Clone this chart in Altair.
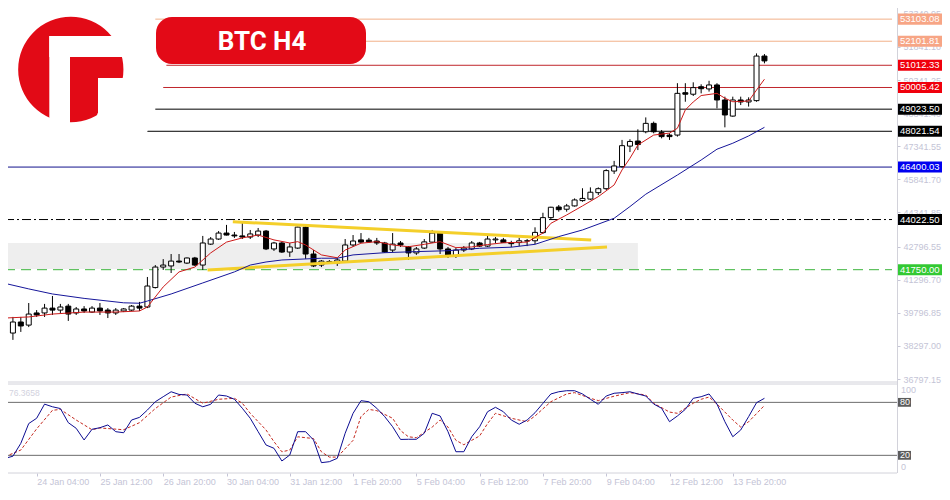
import altair as alt
import pandas as pd

# ---------------- data ----------------
# 4-hour BTC candles, index 0 = first visible bar (23 Jan 20:00), weekends skipped
opens = [
    38940, 38880, 39380, 39240, 39790, 39790, 40010, 39920, 40100, 39790,
    39970, 39830, 40010, 39920, 39790, 39880, 39920, 40100, 40060, 40940,
    41870, 41920, 42140, 42050, 42280, 41960, 42910, 43140, 43410, 43320,
    43280, 43230, 43320, 43500, 42690, 42960, 42550, 42730, 43680, 42460,
    41960, 42100, 42050, 42140, 42870, 43100, 43090, 43050, 42960, 42640,
    42960, 42780, 42510, 42730, 43000, 43410, 42690, 42370, 42640, 42690,
    42960, 42820, 43100, 43100, 42980, 42980, 43050, 43060, 43430, 44110,
    44590, 44490, 44640, 44880, 44950, 45240, 45420, 46220, 46420, 47350,
    47580, 48000, 48380, 47960, 47850, 47850, 49770, 49700, 50040, 49940,
    50120, 49440, 48710, 49440, 49350, 49410, 51430,
]
highs = [
    39110, 39610, 39610, 40240, 39920, 40200, 40560, 40200, 40200, 40060,
    40100, 40100, 40240, 40010, 40010, 40010, 40150, 40290, 41420, 41960,
    42230, 42460, 42460, 42300, 42330, 43280, 43230, 43500, 43780, 43460,
    43870, 43550, 43640, 43550, 43010, 43010, 42960, 43700, 43730, 42640,
    42190, 42190, 42280, 43140, 43320, 43410, 43190, 43190, 43010, 43410,
    43050, 42820, 42780, 43140, 43550, 43460, 42780, 42730, 42820, 43050,
    43010, 43370, 43230, 43190, 43060, 43190, 43140, 43670, 44330, 44600,
    44680, 44730, 44980, 45440, 45480, 45480, 46300, 46680, 47630, 47660,
    48110, 48650, 48460, 48080, 47930, 50200, 50200, 50240, 50150, 50310,
    50200, 49590, 49590, 49590, 49560, 51550, 51520,
]
lows = [
    38700, 38570, 38930, 39150, 39610, 39610, 39700, 39790, 39430, 39700,
    39790, 39790, 39700, 39560, 39700, 39830, 39880, 39880, 40010, 40900,
    41740, 41600, 42050, 42010, 41920, 41740, 42870, 43100, 43300, 43190,
    43140, 43140, 43230, 42640, 42600, 42510, 42330, 42690, 42240, 41870,
    41870, 42050, 41920, 42100, 42780, 42960, 42960, 42870, 42510, 42550,
    42780, 42190, 42420, 42690, 42960, 42460, 42280, 42280, 42550, 42640,
    42780, 42780, 42960, 42960, 42770, 42820, 42820, 42910, 43370, 44040,
    44380, 44380, 44610, 44830, 44910, 45130, 45360, 46090, 46370, 47080,
    47170, 47930, 47930, 47700, 47630, 47780, 49360, 49620, 49740, 49820,
    49060, 48200, 48680, 49210, 49140, 49360, 51100,
]
closes = [
    38840, 39380, 39200, 39740, 39700, 40010, 39920, 40060, 39740, 39970,
    39880, 40010, 39880, 39790, 39920, 39970, 40100, 40010, 41010, 41870,
    41960, 42140, 42100, 42280, 41960, 42960, 43140, 43410, 43320, 43280,
    43230, 43370, 43500, 42690, 42960, 42550, 42780, 43680, 42460, 41920,
    42140, 42120, 42190, 42870, 43050, 43000, 43010, 42960, 42550, 42910,
    42870, 42510, 42690, 43010, 43410, 42690, 42370, 42640, 42730, 42960,
    42820, 43140, 43140, 42980, 42930, 43060, 43060, 43440, 44110, 44580,
    44470, 44640, 44910, 44980, 45260, 45420, 46240, 46450, 47370, 47560,
    47420, 48380, 48000, 47780, 47780, 49740, 49700, 50000, 49950, 50120,
    49440, 48760, 49440, 49350, 49440, 51430, 51210,
]

# fast (red) and slow (blue) moving averages, read at bar indices
red_ma_idx = [0, 3, 6, 10, 14, 17, 18, 20, 22, 24, 26, 28, 30, 32, 34, 36, 37, 38, 40, 42,
              43, 45, 47, 49, 51, 53, 55, 57, 59, 61, 63, 66, 68, 69, 71, 73, 75, 77, 78, 79,
              80, 82, 84, 85, 86, 87, 88, 90, 91, 92, 94, 95, 96]
red_ma = [39560, 39610, 39740, 39830, 39830, 39880, 40060, 40970, 41650, 41870,
          42510, 43000, 43190, 43320, 43100, 42960, 43020, 42870, 42420, 42290,
          42640, 42950, 43020, 42870, 42790, 42900, 43020, 42750, 42780, 42890,
          42970, 43000, 43410, 43850, 44230, 44640, 45060, 45590, 46270, 46800,
          47400, 47850, 47940, 48160, 48990, 49350, 49640, 49740, 49520, 49360,
          49390, 49890, 50380]
blue_ma_idx = [0, 3, 6, 10, 15, 17, 18, 21, 25, 29, 31, 33, 35, 40, 42, 44, 48, 52, 56, 60,
               64, 67, 70, 73, 77, 79, 81, 85, 88, 90, 92, 94, 96]
blue_ma = [41130, 40880, 40650, 40450, 40250, 40230, 40330, 40650, 41150, 41650,
           41960, 42100, 42190, 42270, 42270, 42420, 42520, 42570, 42610, 42720,
           42770, 42900, 43250, 43550, 44080, 44610, 45170, 46040, 46720, 47210,
           47480, 47810, 48200]

# stochastic oscillator: %K per bar, %D (signal) read at bar indices
stoch_k = [16.6, 19, 33.6, 56, 62, 78, 75, 73, 57, 50.6,
           37.4, 49.5, 51.3, 54.4, 46.8, 45.6, 60, 63, 71.3, 80.7,
           86.4, 92, 89, 88.3, 79, 75, 77.8, 88.3, 87.2, 83.5,
           73.3, 62, 46.8, 31.7, 28, 13.6, 20.4, 46.8, 46.8, 37.4,
           11.7, 12.8, 16.6, 45, 67.6, 81.9, 80.7, 73.3, 63.8, 52.4,
           38, 38.2, 38.2, 45, 67.6, 64.6, 46.8, 24.1, 24.1, 41.1,
           52.4, 69.4, 74.4, 69.4, 60, 55.2, 60, 68.3, 78.9, 89.5,
           92, 93.2, 93.2, 89.5, 83.5, 77.8, 87.2, 90.3, 91, 92,
           89.5, 87.2, 78.1, 73.3, 58.1, 64.6, 72.1, 84.6, 86.4, 89.5,
           78.1, 58.1, 41.1, 48.7, 63.8, 79.6, 84.6]
stoch_d_idx = [0, 2, 4, 6, 7, 9, 11, 12, 15, 17, 19, 21, 23, 25, 27, 29, 30, 31, 33, 34,
               35, 36, 37, 39, 40, 41, 42, 44, 45, 46, 47, 49, 50, 51, 52, 54, 55, 56, 57, 58,
               60, 61, 62, 64, 66, 67, 69, 71, 72, 74, 75, 77, 79, 81, 82, 84, 85, 87, 88, 89,
               90, 92, 93, 94, 96]
stoch_d = [18.5, 26, 50, 71, 72, 60, 49, 51, 49, 57, 73, 86, 89.5, 79, 83.5, 84.6, 79, 67.6, 48.7, 35.5,
           24, 26, 41, 39, 24, 18, 18, 37, 64, 72, 70.6, 62, 48, 41, 40, 52, 60, 52, 37, 32,
           42, 56, 67.6, 62, 58, 64.6, 80.7, 89.5, 91, 84.6, 82, 87, 91, 88.3, 79, 69, 67.6, 79, 83.5, 86,
           78, 60, 52, 58, 76.5]
stoch_levels = [80, 20]
stoch_axis_labels = [100, 0]
stoch_readout = ["76.3658"]

# horizontal price levels
level_values = [53103.08, 52101.81, 51012.33, 50005.42, 49023.50, 48021.54, 46400.03, 44022.50, 41750.00]
level_start_idx = [19, 20, 20.4, 20, 19, 17, 0, 0, 0]
level_styles = ["solid", "solid", "solid", "solid", "solid", "solid", "solid", "dashdot", "dashed"]
level_line_colors = ["#f2b088", "#f2b088", "#c0262c", "#c0262c", "#000000", "#000000",
                     "#12128c", "#000000", "#3cb43c"]
level_tag_colors = ["#f7a585", "#f7a585", "#f0000c", "#f0000c", "#000000", "#000000",
                    "#0000f0", "#000000", "#33c933"]

# triangle trend lines (bar index, price)
trend_upper_idx = [28.8, 74.1]
trend_upper = [43920, 43100]
trend_lower_idx = [25.6, 76.1]
trend_lower = [41740, 42780]

# grey support zone
zone_idx = [0, 80]
zone_price = [41780, 42960]

# axes
price_ticks = [36797.15, 38297.00, 39796.85, 41296.70, 42796.55, 44341.85,
               45841.70, 47341.55, 48841.40, 50341.25, 51841.10, 53340.95]
time_tick_idx = [-4, 4, 12, 20, 28, 36, 44, 52, 60, 68, 76, 84, 92]
time_tick_labels = ["23 Jan 20:00", "24 Jan 04:00", "25 Jan 12:00", "26 Jan 20:00",
                    "30 Jan 04:00", "31 Jan 12:00", "1 Feb 20:00", "5 Feb 04:00",
                    "6 Feb 12:00", "7 Feb 20:00", "9 Feb 04:00", "12 Feb 12:00",
                    "13 Feb 20:00"]
title_text = ["BTC   H4"]

# ---------------- layout ----------------
W, H = 897, 473
XDOM = [0, 112.125]
PDOM = [36707, 53879]
PRANGE = [381, 2]
ODOM = [0, 100]
ORANGE = [473, 384.7]
FONT = "Liberation Sans"
AXC = "#c4c4d6"
BORDER = "#d2d2da"

xscale = alt.Scale(domain=XDOM, nice=False, zero=False)
label_expr = " : ".join(
    f"datum.value == {k} ? '{lab}'" for k, lab in zip(time_tick_idx, time_tick_labels)
) + " : ''"
time_axis = alt.Axis(
    orient="bottom", values=time_tick_idx, labelExpr=label_expr, labelAlign="left",
    labelBaseline="top", labelColor=AXC, labelFont=FONT, labelFontSize=9, labelPadding=1,
    tickColor=AXC, tickSize=3, domain=False, grid=False, title=None,
    labelOverlap=False, labelFlush=False, labelBound=False,
)
price_axis = alt.Axis(
    orient="right", values=price_ticks, format=".2f", labelColor=AXC, labelFont=FONT,
    labelFontSize=9, tickColor=AXC, tickSize=3, labelPadding=3, domain=False, grid=False,
    title=None,
)


def X(f):
    return alt.X(f, type="quantitative", scale=xscale, axis=time_axis)


def PY(f, axis=None):
    return alt.Y(f, type="quantitative",
                 scale=alt.Scale(domain=PDOM, range=PRANGE, nice=False, zero=False),
                 axis=axis)


def OY(f):
    return alt.Y(f, type="quantitative",
                 scale=alt.Scale(domain=ODOM, range=ORANGE, nice=False, zero=False),
                 axis=None)


one = pd.DataFrame({"a": [0]})

cdf = pd.DataFrame({"idx": list(range(len(opens))), "open": opens, "high": highs,
                    "low": lows, "close": closes})
lv = pd.DataFrame({"p": level_values, "start": level_start_idx, "end": [XDOM[1]] * len(level_values),
                   "style": level_styles, "lc": level_line_colors, "tc": level_tag_colors,
                   "label": [f"{v:.2f}" for v in level_values]})
zdf = pd.DataFrame({"x0": [zone_idx[0]], "x1": [zone_idx[1]],
                    "p0": [zone_price[0]], "p1": [zone_price[1]]})
tdf = pd.DataFrame({"idx": trend_upper_idx + trend_lower_idx, "p": trend_upper + trend_lower,
                    "line": ["u", "u", "l", "l"]})
rdf = pd.DataFrame({"idx": red_ma_idx, "v": red_ma})
bdf = pd.DataFrame({"idx": blue_ma_idx, "v": blue_ma})
kdf = pd.DataFrame({"idx": list(range(len(stoch_k))), "v": stoch_k})
ddf = pd.DataFrame({"idx": stoch_d_idx, "v": stoch_d})
sl = pd.DataFrame({"v": stoch_levels, "label": [str(v) for v in stoch_levels]})

layers = []

# support zone
layers.append(alt.Chart(zdf).mark_rect(color="#eeeeee").encode(
    x=X("x0"), x2="x1", y=PY("p0"), y2="p1"))

# level lines
layers.append(alt.Chart(lv).transform_filter("datum.style == 'solid'").mark_rule(strokeWidth=1).encode(
    x=X("start"), x2="end", y=PY("p"), color=alt.Color("lc:N", scale=None)))
layers.append(alt.Chart(lv).transform_filter("datum.style == 'dashdot'").mark_rule(
    strokeWidth=1, strokeDash=[9, 3, 2, 3]).encode(
    x=X("start"), x2="end", y=PY("p"), color=alt.Color("lc:N", scale=None)))
layers.append(alt.Chart(lv).transform_filter("datum.style == 'dashed'").mark_rule(
    strokeWidth=1, strokeDash=[10, 6]).encode(
    x=X("start"), x2="end", y=PY("p"), color=alt.Color("lc:N", scale=None)))

# candles
layers.append(alt.Chart(cdf).mark_rule(color="black", strokeWidth=1).encode(
    x=X("idx"), y=PY("low", price_axis), y2="high"))
layers.append(alt.Chart(cdf).mark_bar(size=5, stroke="black", strokeWidth=1).encode(
    x=X("idx"), y=PY("open"), y2="close",
    fill=alt.condition("datum.close >= datum.open", alt.value("#ffffff"), alt.value("#000000"))))

# trend lines
layers.append(alt.Chart(tdf).mark_line(color="#f4cf2a", strokeWidth=3).encode(
    x=X("idx"), y=PY("p"), detail="line:N"))

# moving averages
layers.append(alt.Chart(bdf).mark_line(color="#16169a", strokeWidth=1).encode(x=X("idx"), y=PY("v")))
layers.append(alt.Chart(rdf).mark_line(color="#cc1a1a", strokeWidth=1).encode(x=X("idx"), y=PY("v")))

# price tags on the right
layers.append(alt.Chart(lv).transform_calculate(lo="datum.p - 250", hi="datum.p + 250").mark_rect().encode(
    x=alt.value(898), x2=alt.value(942), y=PY("lo:Q"), y2="hi:Q", color=alt.Color("tc:N", scale=None)))
layers.append(alt.Chart(lv).mark_text(align="left", baseline="middle", font=FONT, fontSize=9.5,
                                       color="white").encode(
    x=alt.value(900), y=PY("p"), text="label:N"))

# panel borders
layers.append(alt.Chart(one).mark_rule(color=BORDER, strokeWidth=1).encode(
    x=alt.value(0), x2=alt.value(W), y=alt.value(382)))
layers.append(alt.Chart(one).mark_rule(color=BORDER, strokeWidth=1).encode(
    x=alt.value(0), x2=alt.value(W), y=alt.value(384)))
layers.append(alt.Chart(one).mark_rule(color=BORDER, strokeWidth=1).encode(
    x=alt.value(0), x2=alt.value(W), y=alt.value(473)))
layers.append(alt.Chart(one).mark_rule(color=BORDER, strokeWidth=1).encode(
    x=alt.value(897.5), y=alt.value(2), y2=alt.value(473)))

# stochastic panel
layers.append(alt.Chart(sl).mark_rule(color="#6c6c6c", strokeWidth=1).encode(y=OY("v")))
layers.append(alt.Chart(ddf).mark_line(color="#c4281e", strokeWidth=1, strokeDash=[3, 2]).encode(
    x=X("idx"), y=OY("v")))
layers.append(alt.Chart(kdf).mark_line(color="#0c0c92", strokeWidth=1).encode(
    x=X("idx"), y=OY("v")))
layers.append(alt.Chart(sl).transform_calculate(lo="datum.v - 5", hi="datum.v + 5").mark_rect(
    color="#5c5c5c").encode(x=alt.value(898), x2=alt.value(911), y=OY("lo:Q"), y2="hi:Q"))
layers.append(alt.Chart(sl).mark_text(align="left", baseline="middle", font=FONT, fontSize=9,
                                       color="white").encode(
    x=alt.value(900), y=OY("v"), text="label:N"))
osc_lab = pd.DataFrame({"v": stoch_axis_labels, "label": [str(v) for v in stoch_axis_labels]})
layers.append(alt.Chart(osc_lab).transform_filter("datum.v > 50").mark_text(
    align="left", baseline="top", font=FONT, fontSize=9, color=AXC, dy=1).encode(
    x=alt.value(901), y=OY("v"), text="label:N"))
layers.append(alt.Chart(osc_lab).transform_filter("datum.v < 50").mark_text(
    align="left", baseline="bottom", font=FONT, fontSize=9, color=AXC, dy=-1).encode(
    x=alt.value(901), y=OY("v"), text="label:N"))
layers.append(alt.Chart(pd.DataFrame({"t": stoch_readout})).mark_text(
    align="left", baseline="middle", font=FONT, fontSize=8.5, color="#d2d2de").encode(
    x=alt.value(9), y=alt.value(393), text="t:N"))

# logo
LOGO_RED = "#e20a16"
layers.append(alt.Chart(one).mark_rect(color="white").encode(
    x=alt.value(0), x2=alt.value(137), y=alt.value(-2), y2=alt.value(139)))
layers.append(alt.Chart(one).mark_circle(size=11080, color=LOGO_RED, opacity=1).encode(
    x=alt.value(70.8), y=alt.value(69.5)))
layers.append(alt.Chart(one).mark_rect(color="white").encode(
    x=alt.value(49.3), x2=alt.value(70), y=alt.value(36), y2=alt.value(134)))
layers.append(alt.Chart(one).mark_rect(color="white").encode(
    x=alt.value(49.3), x2=alt.value(136), y=alt.value(36), y2=alt.value(57)))
layers.append(alt.Chart(one).mark_rect(color="white").encode(
    x=alt.value(98), x2=alt.value(136), y=alt.value(78), y2=alt.value(136)))
layers.append(alt.Chart(one).mark_circle(size=2830, color="white", opacity=1).encode(
    x=alt.value(122), y=alt.value(124)))

# title badge
layers.append(alt.Chart(one).mark_rect(color="#e30a17", cornerRadius=16).encode(
    x=alt.value(156), x2=alt.value(366), y=alt.value(17), y2=alt.value(64)))
layers.append(alt.Chart(pd.DataFrame({"t": title_text})).mark_text(
    align="center", baseline="middle", font="Roboto", fontSize=26, fontWeight="bold",
    color="white").encode(x=alt.value(262), y=alt.value(41.5), text="t:N"))

chart = alt.layer(*layers).resolve_scale(y="independent").properties(
    width=W, height=H,
    autosize=alt.AutoSizeParams(type="none"),
    padding={"left": -8, "top": -8, "right": 45, "bottom": 12},
).configure_view(stroke=None)

chart.save("out.html", embed_options={"renderer": "svg", "actions": False})
